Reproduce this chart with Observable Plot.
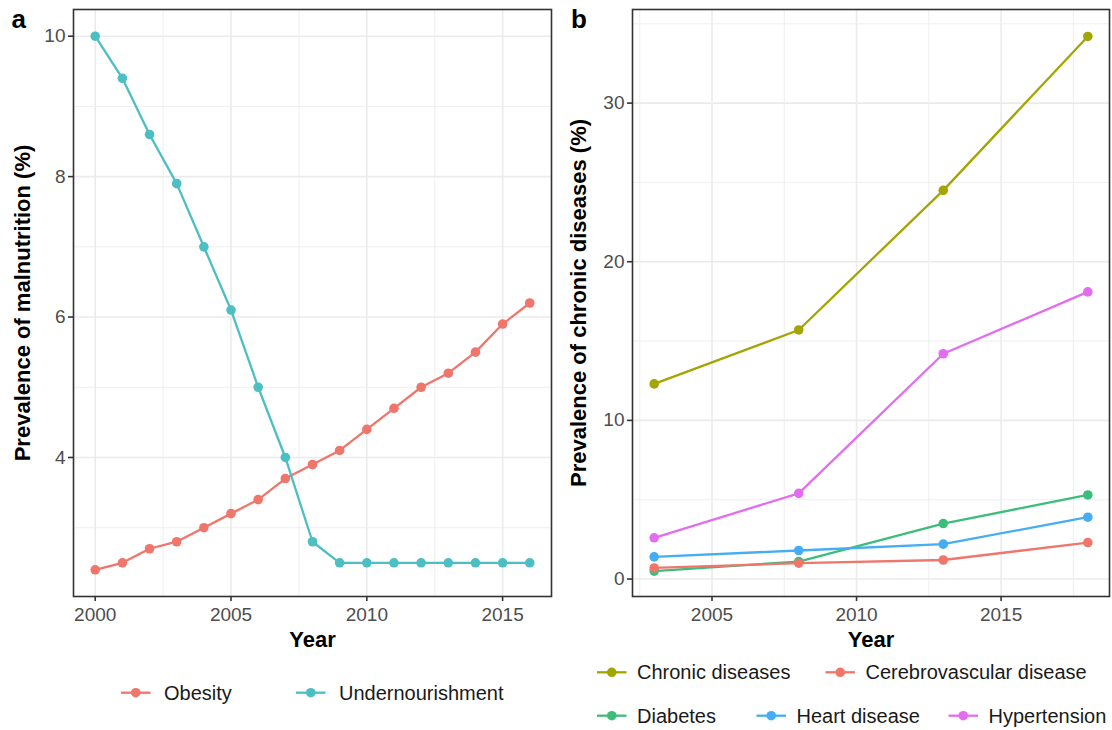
<!DOCTYPE html>
<html>
<head>
<meta charset="utf-8">
<title>Malnutrition and chronic diseases</title>
<script src="https://cdn.jsdelivr.net/npm/d3@7"></script>
<script src="https://cdn.jsdelivr.net/npm/@observablehq/plot@0.6"></script>
<style>
  html, body { margin: 0; padding: 0; background: #ffffff; }
  #page { position: relative; width: 1112px; height: 730px; overflow: hidden; background: #ffffff;
          font-family: "Liberation Sans", Arial, Helvetica, sans-serif; }
  .panel { position: absolute; top: 0; width: 556px; height: 660px; }
  #panel-a { left: 0; }
  #panel-b { left: 556px; }
  #overlay { position: absolute; left: 0; top: 0; pointer-events: none; }
</style>
</head>
<body>
<div id="page">
  <div class="panel" id="panel-a"></div>
  <div class="panel" id="panel-b"></div>
</div>
<script>
// ---- Panel a: malnutrition, yearly series ----
const yearsA = [2000, 2001, 2002, 2003, 2004, 2005, 2006, 2007, 2008, 2009, 2010, 2011, 2012, 2013, 2014, 2015, 2016];
const obesity = [2.4, 2.5, 2.7, 2.8, 3.0, 3.2, 3.4, 3.7, 3.9, 4.1, 4.4, 4.7, 5.0, 5.2, 5.5, 5.9, 6.2];
const undernourishment = [10.0, 9.4, 8.6, 7.9, 7.0, 6.1, 5.0, 4.0, 2.8, 2.5, 2.5, 2.5, 2.5, 2.5, 2.5, 2.5, 2.5];
const seriesA = ["Obesity", "Undernourishment"];
const colorsA = ["#F0756B", "#4CBFC3"];
const xTicksA = [2000, 2005, 2010, 2015];
const xMinorA = [2002.5, 2007.5, 2012.5];
const yTicksA = [4, 6, 8, 10];
const yMinorA = [3, 5, 7, 9];

// ---- Panel b: chronic diseases, survey years ----
const yearsB = [2003, 2008, 2013, 2018];
const chronicDiseases = [12.3, 15.7, 24.5, 34.2];
const cerebrovascular = [0.7, 1.0, 1.2, 2.3];
const diabetes = [0.5, 1.1, 3.5, 5.3];
const heartDisease = [1.4, 1.8, 2.2, 3.9];
const hypertension = [2.6, 5.4, 14.2, 18.1];
const seriesB = ["Chronic diseases", "Cerebrovascular disease", "Diabetes", "Heart disease", "Hypertension"];
const colorsB = ["#A3A500", "#F0756B", "#3DBD7B", "#45ADF3", "#E46CF0"];
const xTicksB = [2005, 2010, 2015];
const xMinorB = [2002.5, 2007.5, 2012.5, 2017.5];
const yTicksB = [0, 10, 20, 30];
const yMinorB = [5, 15, 25, 35];

// long-format tables
const rowsA = [
  ...yearsA.map((year, i) => ({year, value: obesity[i], series: "Obesity"})),
  ...yearsA.map((year, i) => ({year, value: undernourishment[i], series: "Undernourishment"}))
];
const valuesB = {
  "Chronic diseases": chronicDiseases,
  "Cerebrovascular disease": cerebrovascular,
  "Diabetes": diabetes,
  "Heart disease": heartDisease,
  "Hypertension": hypertension
};
const drawOrderB = ["Chronic diseases", "Diabetes", "Heart disease", "Hypertension", "Cerebrovascular disease"];
const rowsB = drawOrderB.flatMap(s => yearsB.map((year, i) => ({year, value: valuesB[s][i], series: s})));

const FONT = '"Liberation Sans", Arial, Helvetica, sans-serif';
const GRID = "#EBEBEB";
const INK = "#333333";

function panel({marginLeft, marginRight, xDomain, yDomain, xTicks, xMinor, yTicks, yMinor, rows, series, colors, yTitle}) {
  return Plot.plot({
    width: 556,
    height: 660,
    marginLeft, marginRight,
    marginTop: 9,
    marginBottom: 64,
    style: {fontFamily: FONT, background: "transparent", overflow: "visible"},
    x: {domain: xDomain, label: null},
    y: {domain: yDomain, label: null},
    color: {domain: series, range: colors},
    marks: [
      Plot.gridX(xMinor, {stroke: GRID, strokeOpacity: 1, strokeWidth: 0.8}),
      Plot.gridY(yMinor, {stroke: GRID, strokeOpacity: 1, strokeWidth: 0.8}),
      Plot.gridX(xTicks, {stroke: GRID, strokeOpacity: 1, strokeWidth: 1.6}),
      Plot.gridY(yTicks, {stroke: GRID, strokeOpacity: 1, strokeWidth: 1.6}),
      Plot.line(rows, {x: "year", y: "value", z: "series", stroke: "series", strokeWidth: 2.3}),
      Plot.dot(rows, {x: "year", y: "value", fill: "series", r: 4.8}),
      Plot.frame({stroke: INK, strokeWidth: 1.6}),
      Plot.axisX(xTicks, {tickSize: 5, tickPadding: 6, fontSize: 19, fill: "#4D4D4D", stroke: INK,
                          strokeWidth: 1.6, tickFormat: "d", label: null}),
      Plot.axisY(yTicks, {tickSize: 5, tickPadding: 3, fontSize: 19, fill: "#4D4D4D", stroke: INK,
                          strokeWidth: 1.6, tickFormat: "d", label: null}),
      Plot.text(["Year"], {frameAnchor: "bottom", dy: 50.7, lineAnchor: "bottom", text: d => d,
                           fontSize: 22, fontWeight: "bold", fill: "#000000"}),
      Plot.text([yTitle], {frameAnchor: "left", dx: 29.5 - marginLeft, rotate: -90, lineAnchor: "bottom",
                           textAnchor: "middle", text: d => d, fontSize: 22, fontWeight: "bold", fill: "#000000"})
    ]
  });
}

document.getElementById("panel-a").append(panel({
  marginLeft: 73, marginRight: 5,
  xDomain: [1999.2, 2016.8], yDomain: [2.02, 10.38],
  xTicks: xTicksA, xMinor: xMinorA, yTicks: yTicksA, yMinor: yMinorA,
  rows: rowsA, series: seriesA, colors: colorsA,
  yTitle: "Prevalence of malnutrition (%)"
}));

document.getElementById("panel-b").append(panel({
  marginLeft: 76, marginRight: 3,
  xDomain: [2002.25, 2018.75], yDomain: [-1.1, 35.9],
  xTicks: xTicksB, xMinor: xMinorB, yTicks: yTicksB, yMinor: yMinorB,
  rows: rowsB, series: seriesB, colors: colorsB,
  yTitle: "Prevalence of chronic diseases (%)"
}));

// ---- panel tags and legends ----
const overlay = d3.select("#page").append("svg")
  .attr("id", "overlay").attr("width", 1112).attr("height", 730)
  .style("font-family", FONT);

overlay.append("text").attr("x", 11.5).attr("y", 28.3)
  .attr("font-size", 26).attr("font-weight", "bold").text("a");
overlay.append("text").attr("x", 571).attr("y", 28.3)
  .attr("font-size", 26).attr("font-weight", "bold").text("b");

const colorA = d3.scaleOrdinal(seriesA, colorsA);
const colorB = d3.scaleOrdinal(seriesB, colorsB);

// legend rows: key left edge for each entry, row centre line
const legendRows = [
  {cy: 692.7, textGap: 43, items: [["Obesity", 121], ["Undernourishment", 296]], color: colorA},
  {cy: 672.3, textGap: 40, items: [["Chronic diseases", 597], ["Cerebrovascular disease", 825.5]], color: colorB},
  {cy: 715.7, textGap: 40, items: [["Diabetes", 597], ["Heart disease", 756.5], ["Hypertension", 948.5]], color: colorB}
];
const KEY = 29.5;
for (const row of legendRows) {
  for (const [label, x0] of row.items) {
    const g = overlay.append("g");
    g.append("line").attr("x1", x0).attr("x2", x0 + KEY).attr("y1", row.cy).attr("y2", row.cy)
      .attr("stroke", row.color(label)).attr("stroke-width", 2.3);
    g.append("circle").attr("cx", x0 + KEY / 2).attr("cy", row.cy).attr("r", 4.8)
      .attr("fill", row.color(label));
    g.append("text").attr("x", x0 + row.textGap).attr("y", row.cy + 7.0)
      .attr("font-size", 20).attr("fill", "#1A1A1A").text(label);
  }
}
</script>
</body>
</html>
